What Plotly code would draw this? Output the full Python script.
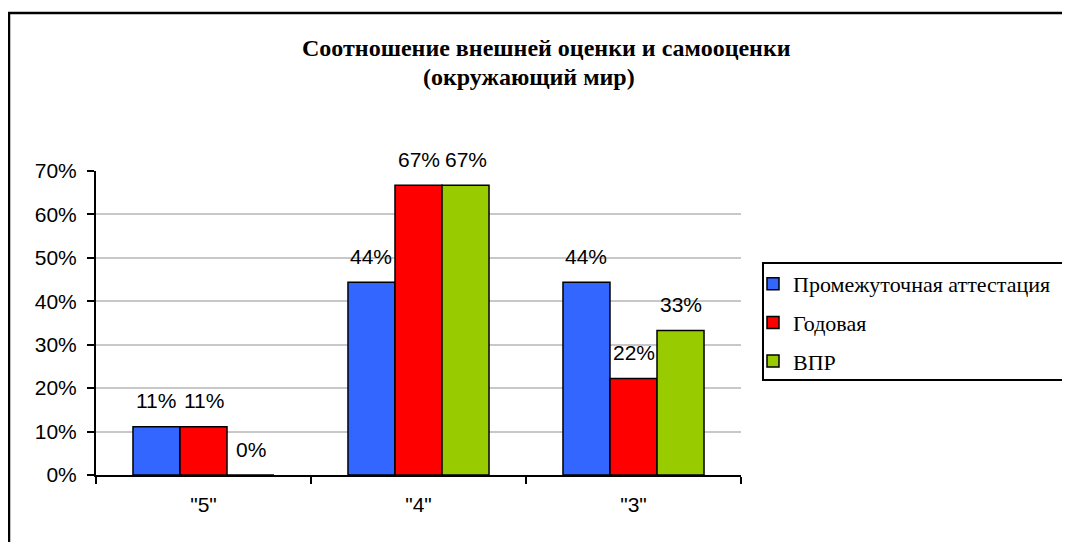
import plotly.graph_objects as go

categories = ['"5"', '"4"', '"3"']
series_names = ["Промежуточная аттестация", "Годовая", "ВПР"]
interim = [0.111, 0.444, 0.444]
annual = [0.111, 0.667, 0.222]
vpr = [0.0, 0.667, 0.333]
labels_interim = ["11%", "44%", "44%"]
labels_annual = ["11%", "67%", "22%"]
labels_vpr = ["0%", "67%", "33%"]
y_ticks = [0, 0.1, 0.2, 0.3, 0.4, 0.5, 0.6, 0.7]
y_tick_text = ["0%", "10%", "20%", "30%", "40%", "50%", "60%", "70%"]
title_line1 = "Соотношение внешней оценки и самооценки"
title_line2 = "(окружающий мир)"

colors = ["#3366FF", "#FF0000", "#99CC00"]
W, H = 1070, 542
OFF = 8  # page body margin
# target screen positions of the plot area
SX0, SX1, SY0, SY1 = 96, 741, 171, 475
ML = SX0 - OFF
MR = W - (SX1 - OFF)
MT = SY0 - OFF
MB = H - (SY1 - OFF)
PW, PH = W - ML - MR, H - MT - MB
BARGAP = 0.344


def px_x(p):
    # screen pixel -> paper x
    return (p - OFF - ML) / PW


def px_y(p):
    # screen pixel -> paper y
    return (H - MB - (p - OFF)) / PH


def open_path(points):
    return "M " + " L ".join(f"{px_x(a):.5f},{px_y(b):.5f}" for a, b in points)


fig = go.Figure()
all_vals = [interim, annual, vpr]
all_labels = [labels_interim, labels_annual, labels_vpr]
for i, (name, vals) in enumerate(zip(series_names, all_vals)):
    fig.add_trace(go.Bar(
        x=categories, y=vals, name=name,
        marker=dict(color=colors[i], line=dict(color="black", width=1.5)),
        legendgroup=f"g{i}", hoverinfo="skip",
    ))

bar_px = PW / len(categories) * (1 - BARGAP) / 3
ann = []
for i, (vals, labs) in enumerate(zip(all_vals, all_labels)):
    for c, v, t in zip(categories, vals, labs):
        ann.append(dict(x=c, y=v, xref="x", yref="y", text=t, showarrow=False,
                        xshift=(i - 1) * bar_px, yshift=26, yanchor="middle",
                        font=dict(family="Liberation Sans, Arial", size=21, color="black")))

ann.append(dict(x=px_x(546), y=px_y(48), xref="paper", yref="paper", text=f"<b>{title_line1}</b>",
                showarrow=False, xanchor="center", yanchor="middle",
                font=dict(family="Liberation Serif, Times New Roman", size=24, color="black")))
ann.append(dict(x=px_x(529), y=px_y(77), xref="paper", yref="paper", text=f"<b>{title_line2}</b>",
                showarrow=False, xanchor="center", yanchor="middle",
                font=dict(family="Liberation Serif, Times New Roman", size=24, color="black")))

shapes = [
    # outer chart frame (left and top edges visible)
    dict(type="path", xref="paper", yref="paper",
         path=open_path([(9, 560), (9, 13), (1075, 13)]),
         line=dict(color="black", width=2.5), layer="below"),
    # legend frame (right edge lies outside the picture)
    dict(type="path", xref="paper", yref="paper",
         path=open_path([(1075, 263), (763, 263), (763, 380), (1075, 380)]),
         line=dict(color="black", width=2), layer="above"),
]

fig.update_layout(
    width=W, height=H,
    margin=dict(l=ML, r=MR, t=MT, b=MB, pad=0, autoexpand=False),
    paper_bgcolor="white", plot_bgcolor="white",
    barmode="group", bargap=BARGAP, bargroupgap=0,
    showlegend=True,
    legend=dict(x=px_x(753), y=px_y(263), xanchor="left", yanchor="top",
                font=dict(family="Liberation Serif, Times New Roman", size=22, color="black"),
                bgcolor="rgba(0,0,0,0)", borderwidth=0,
                traceorder="grouped", tracegroupgap=7, itemclick=False),
    annotations=ann,
    shapes=shapes,
    font=dict(family="Liberation Sans, Arial", size=21, color="black"),
)
fig.update_xaxes(showline=True, linecolor="black", linewidth=2, automargin=False,
                 ticks="outside", tickson="boundaries", ticklen=7, tickwidth=2, tickcolor="black",
                 showgrid=False, ticklabelstandoff=10,
                 tickfont=dict(family="Liberation Sans, Arial", size=21, color="black"))
fig.update_yaxes(range=[0, 0.7], tickvals=y_ticks, ticktext=y_tick_text, automargin=False,
                 showline=True, linecolor="black", linewidth=2,
                 ticks="outside", ticklen=7, tickwidth=2, tickcolor="black",
                 showgrid=True, gridcolor="#C8C8C8", gridwidth=1.5, zeroline=False,
                 ticklabelstandoff=6,
                 tickfont=dict(family="Liberation Sans, Arial", size=21, color="black"))

fig.write_html("out.html")
